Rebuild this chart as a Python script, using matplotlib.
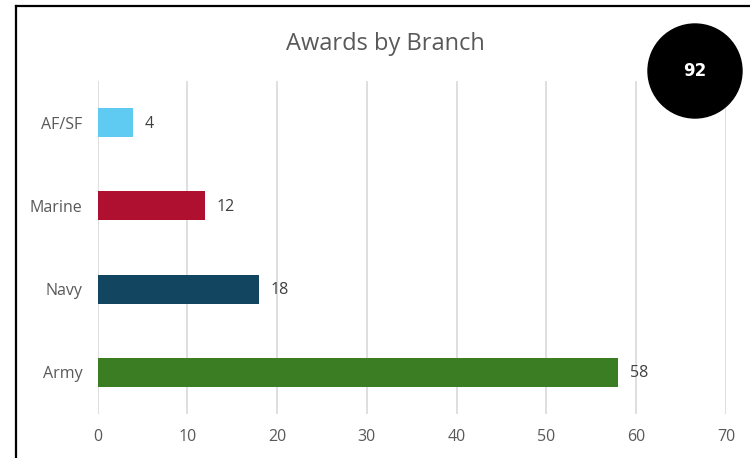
import matplotlib
matplotlib.use("Agg")
import matplotlib.pyplot as plt
from matplotlib.patches import Ellipse
from matplotlib.lines import Line2D

branches = ["Army", "Navy", "Marine", "AF/SF"]
awards = [58, 18, 12, 4]
colors = ["#3B7D23", "#124660", "#B01030", "#5FCBF3"]
total_awards = 92
x_ticks = [0, 10, 20, 30, 40, 50, 60, 70]

plt.rcParams["font.family"] = ["Open Sans", "DejaVu Sans"]
grey = "#595959"

fig = plt.figure(figsize=(7.5, 4.58), dpi=100)
ax = fig.add_axes([0.13, 0.096, 0.838, 0.727])

y = range(len(branches))
ax.barh(y, awards, height=0.35, color=colors, zorder=3)
for yi, v in zip(y, awards):
    ax.text(v + 1.3, yi - 0.01, str(v), va="center", ha="left", fontsize=11.5, color="#404040")

ax.set_xlim(0, 70)
ax.set_ylim(-0.5, len(branches) - 0.5)
ax.set_xticks(x_ticks)
ax.set_yticks(list(y))
ax.set_yticklabels(branches)
ax.tick_params(axis="both", length=0, labelsize=11.5, colors=grey)
ax.tick_params(axis="x", pad=11)
ax.tick_params(axis="y", pad=11)
ax.grid(axis="x", color="#D9D9D9", linewidth=1.2, zorder=0)
for s in ax.spines.values():
    s.set_visible(False)

fig.text(0.514, 0.904, "Awards by Branch", ha="center", va="center", fontsize=17, color=grey)

# frame edges
fig.add_artist(Line2D([16/750, 16/750], [0, 1 - 6/458], transform=fig.transFigure, color="black", linewidth=1.6))
fig.add_artist(Line2D([16/750, 1], [1 - 6/458, 1 - 6/458], transform=fig.transFigure, color="black", linewidth=1.6))

# total badge
cx, cy, r = 695, 71, 47
fig.add_artist(Ellipse((cx/750, 1 - cy/458), 2*r/750, 2*r/458, transform=fig.transFigure, color="black", zorder=5))
fig.text(cx/750, 1 - cy/458, str(total_awards), ha="center", va="center", fontsize=12, fontweight="bold", color="white", zorder=6, family=["DejaVu Sans"])

fig.savefig("out.png", dpi=100)
